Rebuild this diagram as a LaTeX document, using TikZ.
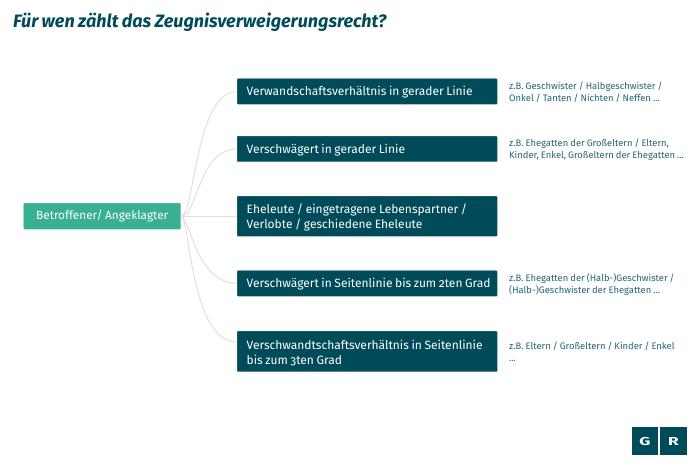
\documentclass[tikz,border=0pt]{standalone}
\usepackage{fontspec}
\setmainfont[Numbers=OldStyle,WordSpace=0.82]{Fira Sans}
\definecolor{petrol}{HTML}{004B5A}
\definecolor{mint}{HTML}{39B092}
\definecolor{edgegray}{HTML}{E0E0E0}
\tikzset{
  branch/.style={fill=petrol,draw=petrol!70!white,line width=.4pt,rounded corners=.8pt,text=white,minimum width=260pt,text width=260pt,inner xsep=0pt,inner ysep=0pt,align=flush left,font=\fontsize{12}{15}\selectfont,anchor=north west,execute at begin node={\leftskip=9.5pt\rule{0pt}{11.5pt}}},
  rootbox/.style={fill=mint,draw=mint!70!white,line width=.4pt,rounded corners=.8pt,text=white,minimum width=157pt,minimum height=26pt,inner sep=0pt,font=\fontsize{11.8}{15}\selectfont,anchor=north west},
  note/.style={text=petrol!85!white,align=flush left,anchor=west,inner sep=0pt,font=\fontsize{9.4}{12.2}\selectfont},
  edge/.style={draw=edgegray,line width=1pt},
  logobox/.style={fill=petrol,draw=none,minimum width=26.5pt,minimum height=28pt,inner sep=0pt,text=white,font=\bfseries\fontsize{11.5}{11.5}\selectfont,anchor=north west},
  titletext/.style={text=petrol,anchor=west,inner sep=0pt,font=\itshape\fontseries{sb}\fontsize{18}{20}\selectfont}
}
\begin{document}
\begin{tikzpicture}[x=1pt,y=-1pt]
\useasboundingbox (0,0) rectangle (700,467);
\fill[white] (0,0) rectangle (700,467);
\node[titletext] (title) at (13,22.5) {Für wen zählt das Zeugnisverweigerungsrecht?};
\node[rootbox] (root) at (23.5,203) {\raisebox{-.8pt}{Betroffener/ Angeklagter}};
\node[branch,minimum height=25.5pt] (b1) at (237,78.5) {Verwandschaftsverhältnis in gerader Linie};
\node[branch,minimum height=25.5pt] (b2) at (237,136) {Verschwägert in gerader Linie};
\node[branch,minimum height=40pt] (b3) at (237,196) {Eheleute / eingetragene Lebenspartner /\\Verlobte / geschiedene Eheleute};
\node[branch,minimum height=25.5pt] (b4) at (237,270.5) {Verschwägert in Seitenlinie bis zum 2ten Grad};
\node[branch,minimum height=40.5pt] (b5) at (237,331) {Verschwandtschaftsverhältnis in Seitenlinie\\bis zum 3ten Grad};
\node[note] (n1) at (509,92) {z.B. Geschwister / Halbgeschwister /\\Onkel / Tanten / Nichten / Neffen ...};
\node[note] (n2) at (509,150) {z.B. Ehegatten der Großeltern / Eltern,\\Kinder, Enkel, Großeltern der Ehegatten ...};
\node[note] (n4) at (509,284.5) {z.B. Ehegatten der (Halb-)Geschwister /\\(Halb-)Geschwister der Ehegatten ...};
\node[note] (n5) at (509,351.5) {z.B. Eltern / Großeltern / Kinder / Enkel\\...};
\coordinate (b5in) at (237,342);
\draw[edge] (root.east) .. controls (195,216) and (195,91) .. (b1.west);
\draw[edge] (root.east) .. controls (198,216) and (198,149) .. (b2.west);
\draw[edge,line width=1.2pt] (root.east) -- (b3.west);
\draw[edge] (root.east) .. controls (190,216) and (195,283) .. (b4.west);
\draw[edge] (root.east) .. controls (190,216) and (190,342) .. (b5in);
\node[logobox] (logog) at (631.5,427) {\scalebox{1.5}[1]{G}};
\node[logobox,minimum width=27.5pt] (logor) at (659.5,427) {\scalebox{1.5}[1]{R}};
\end{tikzpicture}
\end{document}
